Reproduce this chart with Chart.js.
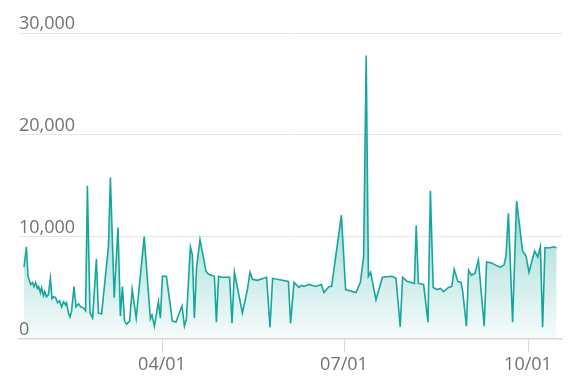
<!DOCTYPE html>
<html>
<head>
<meta charset="utf-8">
<script src="https://cdn.jsdelivr.net/npm/chart.js@4.4.1/dist/chart.umd.min.js"></script>
<style>
  html, body { margin: 0; padding: 0; background: #fff; }
  #chart { display: block; }
</style>
</head>
<body>
<canvas id="chart" width="580" height="389"></canvas>
<script>
// Day of year (2019) for each point
const dayOfYear = [
  22.0, 23.2, 24.0, 25.3, 26.3, 27.0, 27.8, 28.7, 29.3, 30.2, 30.8, 31.7, 32.3, 33.2, 34.2, 35.2,
  36.0, 36.8, 37.8, 38.8, 39.8, 40.8, 41.8, 42.8, 43.3, 44.2, 45.0, 45.8, 47.0, 48.0, 49.3, 50.3,
  51.7, 52.8, 53.7, 55.0, 56.3, 58.2, 59.2, 60.8, 64.2, 65.2, 67.1, 69.0, 70.2, 71.2, 72.3, 73.3,
  74.8, 76.1, 78.1, 82.1, 85.2, 86.0, 87.2, 89.2, 90.2, 91.2, 93.2, 96.2, 98.0, 101.0, 102.2, 103.2,
  105.2, 106.2, 107.2, 108.3, 110.0, 113.0, 114.3, 117.2, 118.2, 119.3, 120.7, 124.8, 126.0, 127.2,
  131.2, 133.7, 135.0, 136.2, 138.7, 143.3, 145.0, 146.3, 154.2, 155.3, 157.0, 159.5, 160.8, 162.0,
  164.5, 167.8, 170.7, 172.0, 174.5, 175.8, 180.7, 182.8, 188.0, 190.2, 191.8, 193.1, 194.2, 195.3,
  198.0, 201.2, 206.0, 208.0, 210.1, 211.3, 213.5, 217.2, 218.1, 219.2, 221.8, 224.0, 225.2, 226.6,
  228.5, 230.2, 231.8, 234.2, 235.9, 237.1, 238.9, 240.5, 241.3, 243.2, 244.3, 245.7, 247.5, 249.2,
  252.1, 253.3, 255.8, 258.8, 260.3, 262.0, 263.0, 264.2, 266.3, 268.3, 271.3, 273.0, 274.5, 277.3,
  278.9, 280.2, 281.3, 282.5, 285.0, 286.7, 288.3
];

const values = [
  7000, 9000, 6100, 5300, 5500, 5100, 5500, 4900, 5100, 4500, 5000, 4200, 4600, 4100, 4300, 5900,
  3900, 4100, 4000, 3500, 3700, 3100, 3600, 3300, 3500, 2500, 2100, 2700, 5100, 3100, 3400, 3100,
  3000, 2700, 15000, 2500, 2000, 7800, 2500, 2400, 9000, 15800, 4000, 10900, 2200, 5100, 1700, 1400,
  1700, 4800, 2000, 10000, 1900, 2300, 1200, 3600, 2000, 6100, 6100, 1700, 1600, 3200, 1200, 1900,
  9000, 8200, 2000, 7000, 9700, 6600, 6300, 6100, 1600, 6100, 6000, 6000, 1500, 6500,
  2500, 4800, 6500, 5800, 5700, 6000, 1100, 5900, 5600, 1500, 5500, 5000, 5200, 5100,
  5300, 5100, 5300, 4500, 5100, 5100, 12100, 4800, 4500, 5500, 8000, 27800, 6100, 6500,
  3800, 6000, 6100, 5900, 1150, 6000, 5600, 5400, 11100, 5400, 5300, 1600, 14500, 5000,
  4800, 4900, 4600, 5000, 5100, 6800, 5600, 5500, 4700, 1200, 6700, 6200, 6400, 7700,
  1200, 7500, 7400, 7100, 7000, 7200, 8100, 12300, 1600, 13500, 8600, 8100, 6500, 8600,
  8000, 9000, 1100, 8900, 8900, 9000, 8900
];

const tickDays = [91, 182, 274];
const tickLabels = ['04/01', '07/01', '10/01'];
const yTickValues = [0, 10000, 20000, 30000];

const lineColor = '#14a79c';

function fillGradient(context) {
    const chart = context.chart;
    const area = chart.chartArea;
    if (!area) return 'rgba(20,167,156,0.2)';
    const top = chart.scales.y.getPixelForValue(13000);
    const g = chart.ctx.createLinearGradient(0, top, 0, area.bottom);
    g.addColorStop(0, 'rgba(20,167,156,0.42)');
    g.addColorStop(1, 'rgba(20,167,156,0.04)');
    return g;
}

const points = dayOfYear.map((d, i) => ({ x: d, y: values[i] }));

const ctx = document.getElementById('chart').getContext('2d');
new Chart(ctx, {
    type: 'line',
    data: {
        datasets: [{
            data: points,
            borderColor: lineColor,
            borderWidth: 1.6,
            backgroundColor: fillGradient,
            fill: 'origin',
            pointRadius: 0,
            tension: 0
        }]
    },
    options: {
        responsive: false,
        animation: false,
        layout: { padding: { left: 19, right: 18, top: 33, bottom: 11 } },
        plugins: { legend: { display: false }, tooltip: { enabled: false } },
        scales: {
            x: {
                type: 'linear',
                min: 19.5,
                max: 291,
                afterBuildTicks: scale => { scale.ticks = tickDays.map(v => ({ value: v })); },
                grid: { drawOnChartArea: false, drawTicks: true, tickLength: 14, tickColor: '#d5d8e0', lineWidth: 1 },
                border: { display: true, color: '#d5d8e0', width: 1.5 },
                ticks: {
                    padding: 2,
                    color: '#727272',
                    font: { family: 'Open Sans', size: 18 },
                    maxRotation: 0,
                    callback: v => tickLabels[tickDays.indexOf(v)]
                }
            },
            y: {
                min: 0,
                max: 30000,
                afterBuildTicks: scale => { scale.ticks = yTickValues.map(v => ({ value: v })); },
                grid: { color: '#e6e6e6', lineWidth: 1, drawTicks: false },
                border: { display: false },
                ticks: {
                    mirror: true,
                    padding: 0,
                    labelOffset: -9,
                    color: '#727272',
                    font: { family: 'Open Sans', size: 18 },
                    callback: v => v.toLocaleString('en-US')
                }
            }
        }
    }
});
</script>
</body>
</html>
